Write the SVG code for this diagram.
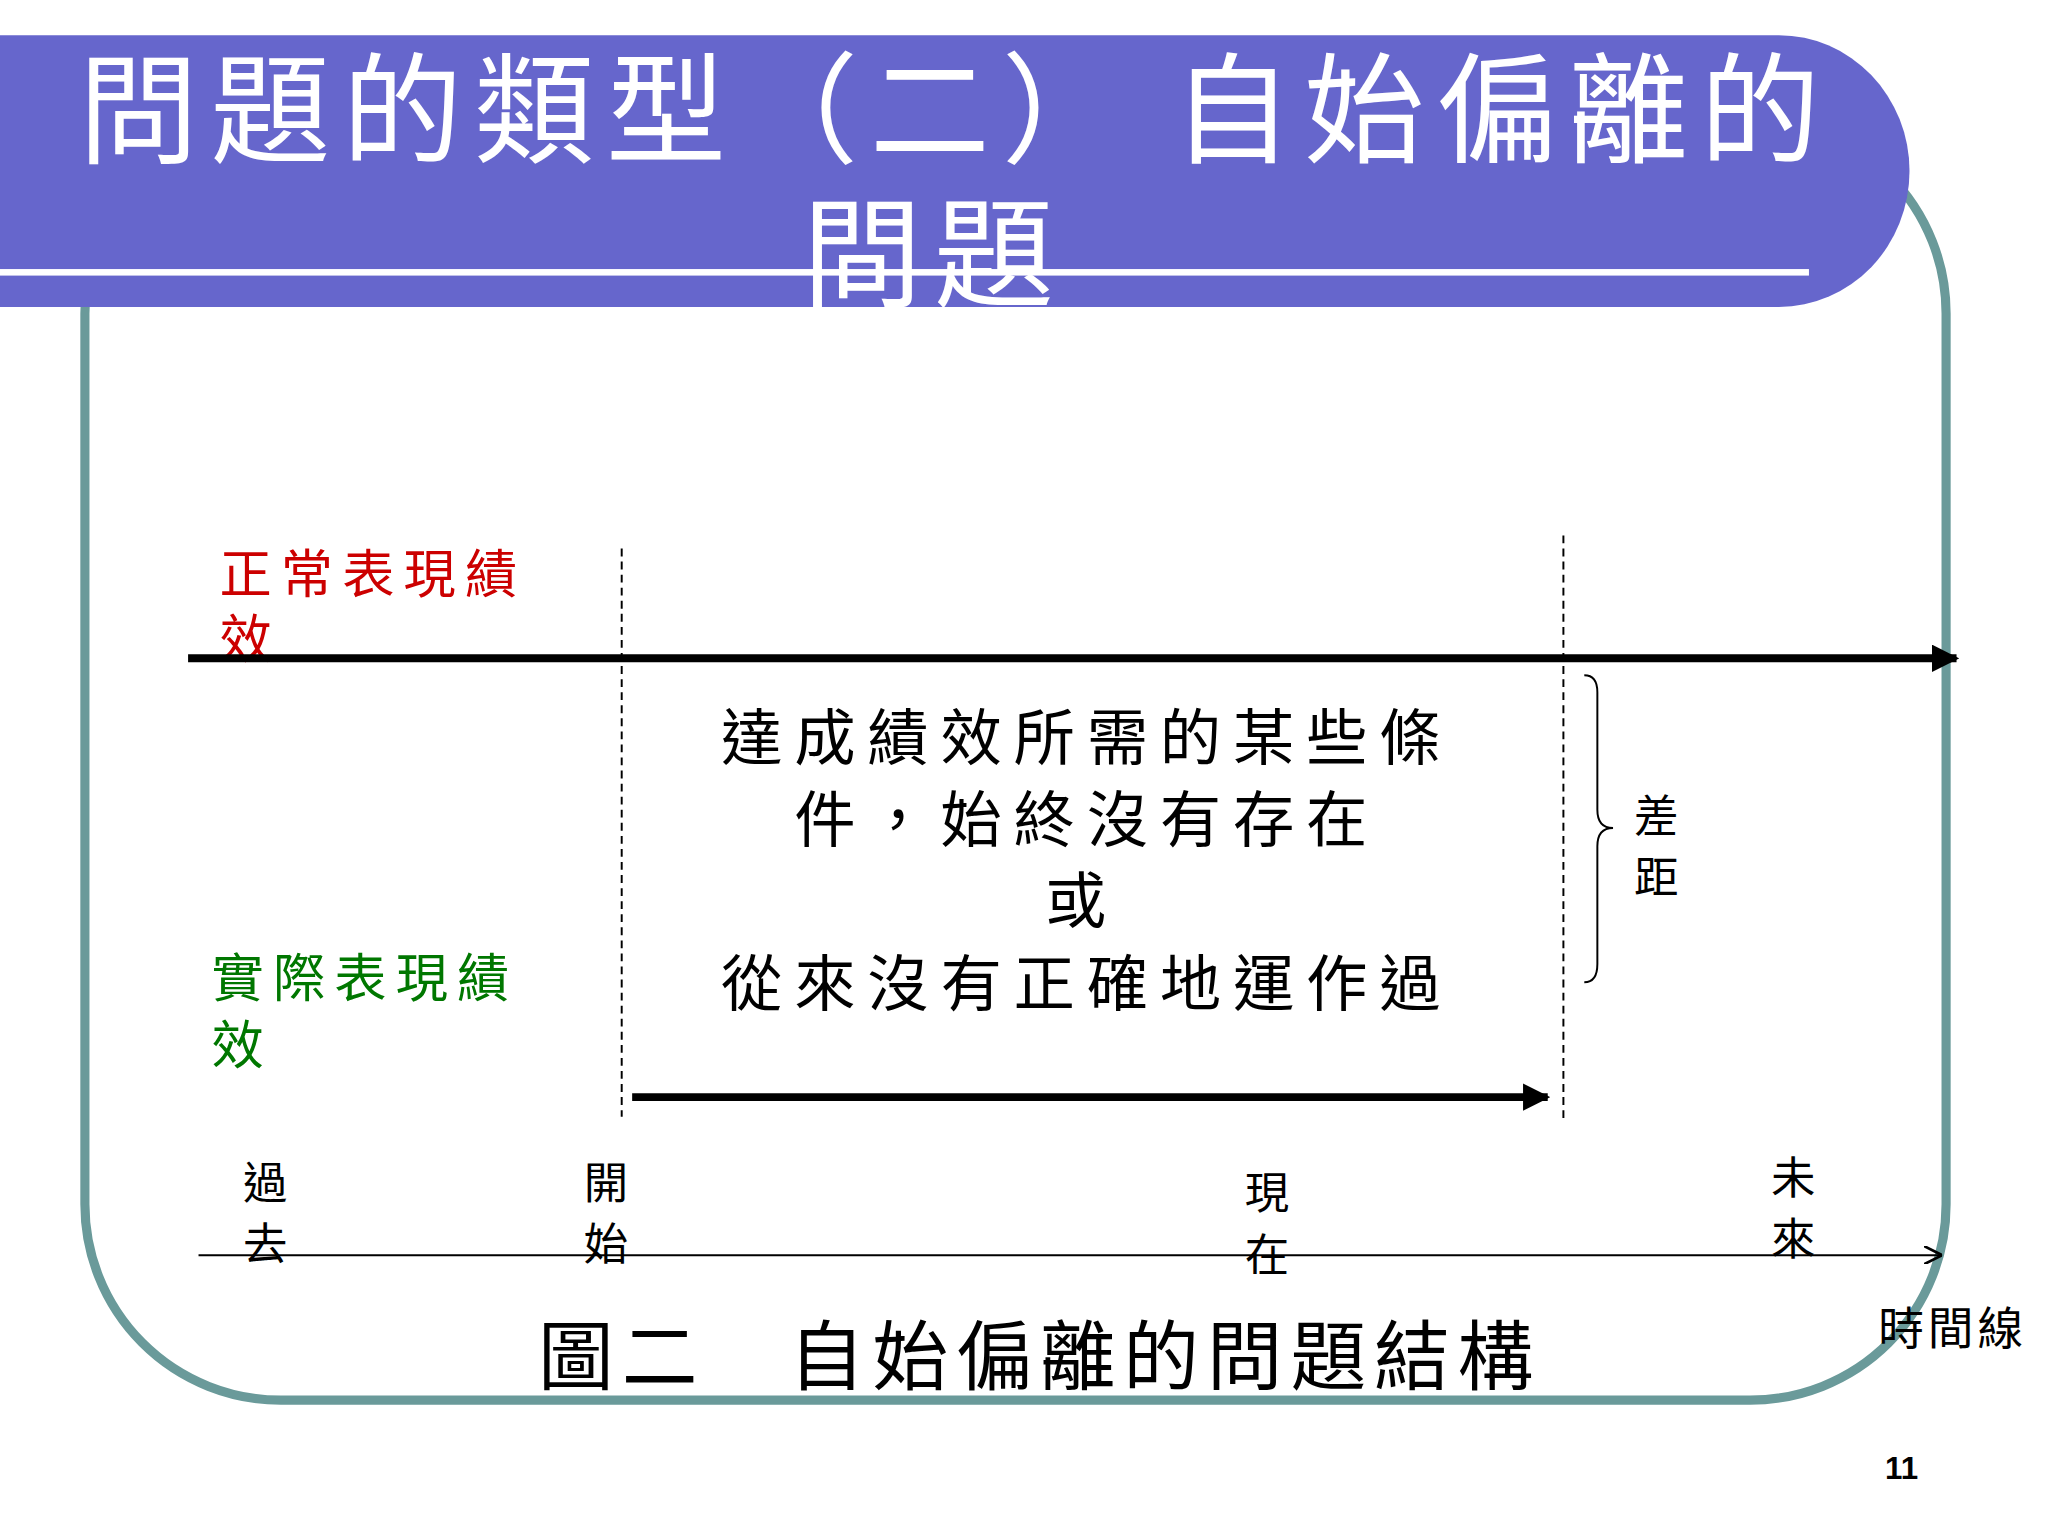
<svg xmlns="http://www.w3.org/2000/svg" width="2048" height="1536" viewBox="0 0 2048 1536">
<defs>
<marker id="ah" viewBox="0 0 10 10" refX="9" refY="5" markerWidth="3.5" markerHeight="3.5" orient="auto"><path d="M0,0L10,5L0,10z" fill="#000"/></marker>
<marker id="oa" viewBox="0 0 10 10" refX="10" refY="5" markerWidth="14" markerHeight="14" markerUnits="userSpaceOnUse" orient="auto"><path d="M0,0L10,5L0,10" fill="none" stroke="#000" stroke-width="1.5"/></marker>
<style>
text{font-family:"Noto Sans CJK TC","Noto Sans CJK SC",sans-serif}
.t{fill:#fff;font-size:92px;letter-spacing:9px}
.m{font-size:47px;letter-spacing:9px;text-anchor:middle}
.s{font-size:34px;text-anchor:middle}
.r{fill:#cc0000;font-size:40px;letter-spacing:7px}
.g{fill:#007700;font-size:40px;letter-spacing:7px}
</style>
</defs>
<rect width="2048" height="1536" fill="#fff"/>
<g transform="scale(1.3061)">
<g id="frame"><rect x="65" y="90" width="1425" height="982" rx="150" fill="none" stroke="#6a9a9a" stroke-width="7"/></g>
<g id="banner">
<path d="M0,27H1362A100,104 0 0 1 1362,235H0Z" fill="#6666cc"/>
<rect x="0" y="206" width="1385" height="5" fill="#fff"/>
<text class="t" x="60" y="118">問題的類型（二） 自始偏離的</text>
<text class="t" x="715" y="228" text-anchor="middle">問題</text>
</g>
<g id="labels">
<text class="r" x="168" y="454">正常表現績</text>
<text class="r" x="168" y="504">效</text>
<text class="g" x="162" y="763">實際表現績</text>
<text class="g" x="162" y="815">效</text>
<text class="m" x="832" y="582">達成績效所需的某些條</text>
<text class="m" x="832" y="645">件，始終沒有存在</text>
<text class="m" x="828" y="707">或</text>
<text class="m" x="832" y="770">從來沒有正確地運作過</text>
<text class="s" x="1268" y="637">差</text>
<text class="s" x="1268" y="684">距</text>
<text class="s" x="203" y="918">過</text><text class="s" x="203" y="965">去</text>
<text class="s" x="464" y="918">開</text><text class="s" x="464" y="965">始</text>
<text class="s" x="970" y="926">現</text><text class="s" x="970" y="973">在</text>
<text class="s" x="1373" y="914">未</text><text class="s" x="1373" y="961">來</text>
<text x="1438" y="1030" style="font-size:35px;letter-spacing:3px">時間線</text>
<text x="412" y="1060" style="font-size:58px;letter-spacing:6px">圖二　自始偏離的問題結構</text>
<text x="1456" y="1132" text-anchor="middle" style="font-family:'Liberation Sans',sans-serif;font-weight:bold;font-size:24px">11</text>
</g>
<g id="connectors" stroke="#000" fill="none">
<line x1="144" y1="504" x2="1498" y2="504" stroke-width="6" marker-end="url(#ah)"/>
<line x1="484" y1="840" x2="1185" y2="840" stroke-width="6" marker-end="url(#ah)"/>
<line x1="152" y1="961" x2="1487" y2="961" stroke-width="1.5" marker-end="url(#oa)"/>
<line x1="476" y1="420" x2="476" y2="855" stroke-width="1.5" stroke-dasharray="6,4"/>
<line x1="1197" y1="410" x2="1197" y2="860" stroke-width="1.5" stroke-dasharray="6,4"/>
<path d="M1213,517Q1223,517 1223,530V620Q1223,634 1235,634Q1223,634 1223,648V738Q1223,752 1213,752" stroke-width="1.5"/>
</g>
</g>
</svg>
